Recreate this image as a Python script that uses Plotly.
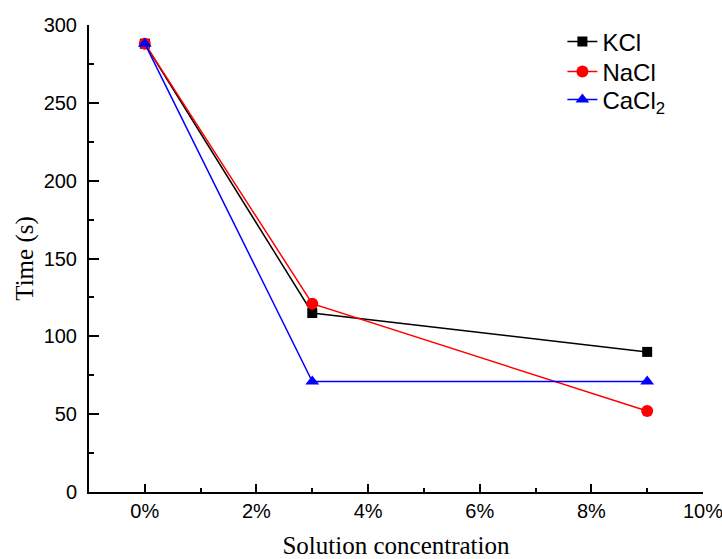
import plotly.graph_objects as go

concentration = [0, 3, 9]
kcl = [288, 115, 90]
nacl = [288, 121, 52]
cacl2 = [288, 71, 71]
series_names = ["KCl", "NaCl", "CaCl<sub>2</sub>"]
x_ticks = [0, 2, 4, 6, 8, 10]
x_tick_labels = ["0%", "2%", "4%", "6%", "8%", "10%"]
y_ticks = [0, 50, 100, 150, 200, 250, 300]

fig = go.Figure()
fig.add_trace(go.Scatter(x=concentration, y=kcl, name=series_names[0], mode="lines+markers",
                         line=dict(color="black", width=1.5),
                         marker=dict(symbol="square", size=10, color="black"), legend="legend"))
fig.add_trace(go.Scatter(x=concentration, y=nacl, name=series_names[1], mode="lines+markers",
                         line=dict(color="red", width=1.5),
                         marker=dict(symbol="circle", size=12, color="red"), legend="legend2"))
fig.add_trace(go.Scatter(x=concentration, y=cacl2, name=series_names[2], mode="lines+markers",
                         line=dict(color="blue", width=1.5),
                         marker=dict(symbol="triangle-up", size=12, color="blue"), legend="legend3"))

leg_common = dict(x=0.771, xanchor="left", yanchor="middle",
                  font=dict(size=24, family="Liberation Sans, Arial"),
                  bgcolor="rgba(0,0,0,0)")

fig.update_layout(
    width=722, height=559,
    margin=dict(l=89, r=19, t=25, b=67),
    plot_bgcolor="white", paper_bgcolor="white",
    font=dict(family="Liberation Sans, Arial", size=20, color="black"),
    showlegend=True,
    legend=dict(y=0.9636, **leg_common),
    legend2=dict(y=0.8994, **leg_common),
    legend3=dict(y=0.8394, **leg_common),
    xaxis=dict(range=[-1, 10], tickvals=x_ticks, ticktext=x_tick_labels, automargin=False,
               showgrid=False, zeroline=False, showline=True, linecolor="black", linewidth=2,
               ticks="inside", ticklen=8, tickwidth=2, tickcolor="black",
               minor=dict(ticks="inside", ticklen=4, tickwidth=1.5, tickcolor="black", dtick=1, tick0=1, showgrid=False),
               title=dict(text="Solution concentration", font=dict(family="Liberation Serif, Times New Roman", size=25), standoff=19),
               tickfont=dict(size=20), ticklabeloverflow="allow"),
    yaxis=dict(range=[0, 300], tickvals=y_ticks, automargin=False,
               showgrid=False, zeroline=False, showline=True, linecolor="black", linewidth=2,
               ticks="inside", ticklen=10, tickwidth=2, tickcolor="black",
               minor=dict(ticks="inside", ticklen=5, tickwidth=1.5, tickcolor="black", dtick=25, tick0=25, showgrid=False),
               title=dict(text="Time (s)", font=dict(family="Liberation Serif, Times New Roman", size=25), standoff=3),
               tickfont=dict(size=20), ticklabelstandoff=6),
)

fig.write_html("out.html")
